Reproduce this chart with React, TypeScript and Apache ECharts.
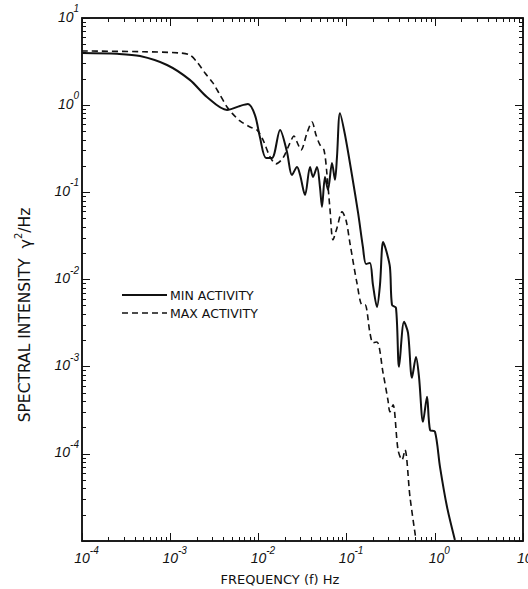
import React, { useEffect, useRef } from "react";
import * as echarts from "echarts";

// MIN ACTIVITY (solid)
const MIN_FREQ = [1e-4, 2.5e-4, 4.55e-4, 9.2e-4, 1.67e-3, 2.61e-3, 4.41e-3, 6.18e-3, 7.62e-3, 9.14e-3, 0.0104, 0.0122, 0.01426, 0.0176, 0.0211, 0.024, 0.0274, 0.0297, 0.0338, 0.0385, 0.0416, 0.0462, 0.0499, 0.0526, 0.0569, 0.0615, 0.0683, 0.0738, 0.0778, 0.0841, 0.096, 0.115, 0.135, 0.153, 0.166, 0.184, 0.199, 0.221, 0.239, 0.259, 0.28, 0.31, 0.327, 0.363, 0.393, 0.448, 0.497, 0.551, 0.612, 0.662, 0.735, 0.816, 0.883, 1.005, 1.145, 1.375, 1.69];
const MIN_INT = [3.97, 3.88, 3.66, 2.89, 1.95, 1.24, 0.88, 0.98, 1.03, 0.77, 0.43, 0.248, 0.248, 0.52, 0.29, 0.158, 0.195, 0.158, 0.093, 0.195, 0.15, 0.195, 0.115, 0.068, 0.15, 0.107, 0.217, 0.139, 0.255, 0.81, 0.455, 0.158, 0.058, 0.0237, 0.0151, 0.0155, 0.00867, 0.00485, 0.00867, 0.027, 0.0218, 0.0139, 0.00512, 0.00472, 0.000996, 0.00327, 0.00244, 0.000745, 0.00129, 0.000764, 0.000233, 0.000451, 0.000188, 0.000179, 7.1e-5, 2.47e-5, 1.03e-5];

// MAX ACTIVITY (dashed)
const MAX_FREQ = [1e-4, 5e-4, 1.29e-3, 1.67e-3, 2.01e-3, 2.48e-3, 3.05e-3, 3.67e-3, 4.41e-3, 5.02e-3, 6.18e-3, 8.03e-3, 9.64e-3, 0.01128, 0.01355, 0.01585, 0.019, 0.0228, 0.0253, 0.0274, 0.0304, 0.0356, 0.0405, 0.045, 0.0499, 0.0554, 0.06, 0.0649, 0.0701, 0.0778, 0.0887, 0.0984, 0.109, 0.131, 0.15, 0.162, 0.184, 0.199, 0.221, 0.259, 0.294, 0.31, 0.336, 0.383, 0.425, 0.459, 0.523, 0.612];
const MAX_INT = [4.19, 4.1, 3.97, 3.77, 3.13, 2.34, 1.8, 1.31, 0.953, 0.81, 0.66, 0.562, 0.52, 0.4, 0.255, 0.212, 0.248, 0.369, 0.443, 0.378, 0.306, 0.48, 0.641, 0.455, 0.35, 0.306, 0.158, 0.0628, 0.0285, 0.0391, 0.0596, 0.0482, 0.0263, 0.00914, 0.00512, 0.00512, 0.00244, 0.00188, 0.00192, 0.000849, 0.000416, 0.000303, 0.000365, 0.000111, 8.5e-5, 0.000111, 3.21e-5, 1.03e-5];

const Y_LABELED = [-4, -3, -2, -1, 0, 1];
const SERIES_NAMES = ["MIN ACTIVITY", "MAX ACTIVITY"];

const X_MIN = 1e-4;
const X_MAX = 10;
const Y_MIN = 1e-5;
const Y_MAX = 10;

const INK = "#111";
const LABEL_FONT = "Liberation Sans";
const TEXT_FONT = "DejaVu Sans";

const labelRich = {
  b: { fontFamily: LABEL_FONT, fontStyle: "italic", fontSize: 14, lineHeight: 26, color: INK },
  e: { fontFamily: LABEL_FONT, fontStyle: "italic", fontSize: 10, color: INK, verticalAlign: "top" },
};

const tickStyle = { show: true, inside: true, length: 8, lineStyle: { color: INK, width: 1 } };
const minorStyle = { show: true, splitNumber: 9, length: 4, lineStyle: { color: INK, width: 1 } };

export default function App() {
  const ref = useRef<HTMLDivElement>(null);
  useEffect(() => {
    if (!ref.current) return;
    const chart = echarts.init(ref.current, null, { renderer: "svg" });
    const minData = MIN_FREQ.map((f, i) => [f, MIN_INT[i]]);
    const maxData = MAX_FREQ.map((f, i) => [f, MAX_INT[i]]);

    const legendY = [295, 313];
    const legendGraphics: any[] = [];
    SERIES_NAMES.forEach((name, i) => {
      legendGraphics.push({
        type: "line",
        shape: { x1: 122, y1: legendY[i], x2: 167, y2: legendY[i] },
        style: i === 0
          ? { stroke: INK, lineWidth: 2 }
          : { stroke: INK, lineWidth: 1.6, lineDash: [6, 4] },
      });
      legendGraphics.push({
        type: "text",
        x: 170,
        y: legendY[i],
        style: { text: name, fontFamily: TEXT_FONT, fontSize: 12.5, fill: INK, align: "left", verticalAlign: "middle" },
      });
    });

    const baseX = {
      type: "log",
      logBase: 10,
      min: X_MIN,
      max: X_MAX,
      splitNumber: 5,
      axisLine: { show: true, lineStyle: { color: INK, width: 1.5 } },
      axisTick: tickStyle,
      minorTick: minorStyle,
      splitLine: { show: false },
      minorSplitLine: { show: false },
    };
    const baseY = {
      type: "log",
      logBase: 10,
      min: Y_MIN,
      max: Y_MAX,
      splitNumber: 6,
      axisLine: { show: true, lineStyle: { color: INK, width: 1.5 } },
      axisTick: tickStyle,
      minorTick: minorStyle,
      splitLine: { show: false },
      minorSplitLine: { show: false },
    };

    const option: any = {
      animation: false,
      backgroundColor: "#fff",
      grid: {
        left: 82, top: 18, width: 441, height: 523,
        outerBoundsMode: "none",
        show: true, borderColor: INK, borderWidth: 1.5,
      },
      xAxis: [
        {
          ...baseX,
          position: "bottom",
          axisLabel: {
            margin: 4,
            showMinLabel: true,
            showMaxLabel: true,
            hideOverlap: false,
            padding: [0, 0, 0, 9],
            formatter: (v: number) => {
              const e = Math.round(Math.log10(v));
              return `{b|10}{e|${e}}`;
            },
            rich: labelRich,
          },
        },
        { ...baseX, position: "top", axisLabel: { show: false } },
      ],
      yAxis: [
        {
          ...baseY,
          position: "left",
          axisLabel: {
            margin: 3,
            showMinLabel: true,
            showMaxLabel: true,
            padding: [0, 0, 3, 0],
            formatter: (v: number) => {
              const e = Math.round(Math.log10(v));
              if (Y_LABELED.indexOf(e) < 0) return "";
              return `{b|10}{e|${e}}`;
            },
            rich: labelRich,
          },
        },
        { ...baseY, position: "right", axisLabel: { show: false } },
      ],
      series: [
        {
          name: SERIES_NAMES[0],
          type: "line",
          xAxisIndex: 0,
          yAxisIndex: 0,
          data: minData,
          symbol: "none",
          smooth: 0.3,
          lineStyle: { color: INK, width: 2, type: "solid" },
          itemStyle: { color: INK },
        },
        {
          name: SERIES_NAMES[1],
          type: "line",
          xAxisIndex: 0,
          yAxisIndex: 0,
          data: maxData,
          symbol: "none",
          smooth: 0.3,
          lineStyle: { color: INK, width: 1.6, type: [6, 4] },
          itemStyle: { color: INK },
        },
      ],
      graphic: [
        ...legendGraphics,
        {
          type: "text",
          x: 280,
          y: 579,
          style: {
            text: "FREQUENCY (f) Hz",
            fontFamily: TEXT_FONT,
            fontSize: 13,
            fill: INK,
            align: "center",
            verticalAlign: "middle",
          },
        },
        {
          type: "text",
          x: 25,
          y: 315,
          rotation: Math.PI / 2,
          style: {
            text: "SPECTRAL INTENSITY  {g|γ}{s|2}{n|/Hz}",
            fontFamily: TEXT_FONT,
            fontSize: 15.5,
            fill: INK,
            align: "center",
            verticalAlign: "middle",
            rich: {
              g: { fontFamily: TEXT_FONT, fontSize: 16, fill: INK, lineHeight: 24 },
              s: { fontFamily: TEXT_FONT, fontSize: 10, fill: INK, verticalAlign: "top" },
              n: { fontFamily: TEXT_FONT, fontSize: 15.5, fill: INK, lineHeight: 24 },
            },
          },
        },
      ],
    };
    chart.setOption(option);
    return () => chart.dispose();
  }, []);
  return (
    <div
      ref={ref}
      style={{ position: "fixed", left: 0, top: 0, width: 528, height: 589, background: "#fff" }}
    />
  );
}
